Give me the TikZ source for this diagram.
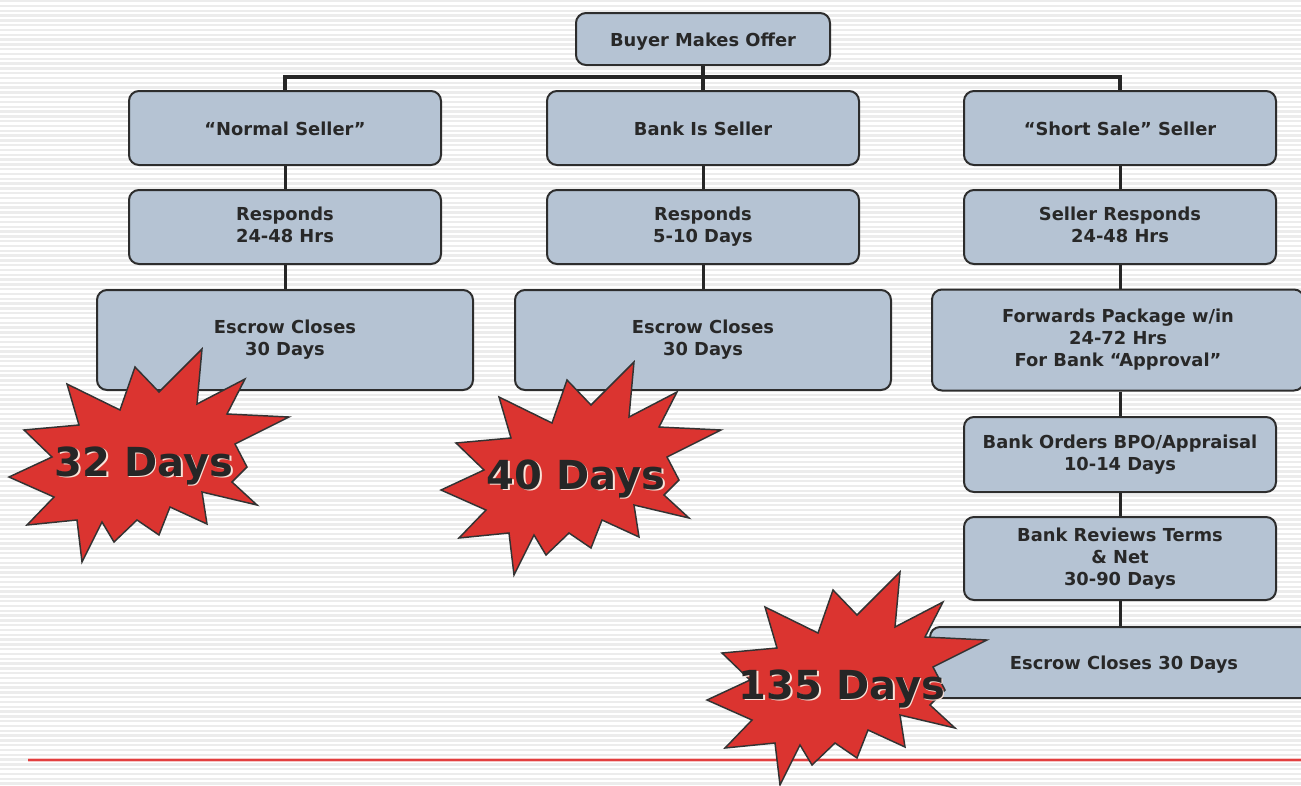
\documentclass[tikz,border=0pt]{standalone}
\usepackage{fontspec}
\setmainfont{DejaVu Sans}
\usepackage{tikz}

\definecolor{boxfill}{RGB}{181,195,211}
\definecolor{boxline}{RGB}{45,45,45}
\definecolor{boxtext}{RGB}{40,40,40}
\definecolor{burstred}{RGB}{219,52,48}
\definecolor{stripe}{RGB}{236,236,236}
\definecolor{redline}{RGB}{226,62,62}
\definecolor{glow}{RGB}{250,226,216}

\newcommand{\burstlabel}[1]{\makebox[0pt][l]{\hspace{1.2pt}\raisebox{-1.4pt}{\color{glow}#1}}#1}

\begin{document}
\begin{tikzpicture}[x=0.75pt,y=0.75pt,yscale=-1,xscale=1,
  box/.style={draw=boxline, line width=1.5pt, fill=boxfill, rounded corners=7.5pt, text=boxtext, font=\fontsize{13.4}{16.5}\selectfont\bfseries, align=center, inner sep=0pt, execute at begin node={\rule{0pt}{14.3pt}}, execute at end node={\rule[-3.3pt]{0pt}{0pt}}},
  link/.style={draw=black!85, line width=2.25pt},
  bus/.style={draw=black!85, line width=3pt},
  burst/.style={draw=black!80, line width=1.1pt, fill=burstred, line join=miter},
  daystxt/.style={font=\fontsize{30}{36}\selectfont\bfseries, text=black!85, inner sep=0pt, anchor=base},
  boom/.pic={\path[burst, yscale=-1] (200,7) -- (195,62) -- (243,37) -- (225,72) -- (287,75) -- (233,102) -- (245,125) -- (230,140) -- (255,163) -- (200,150) -- (205,182) -- (168,165) -- (157,193) -- (135,178) -- (112,200) -- (100,180) -- (80,220) -- (75,178) -- (25,183) -- (52,155) -- (7,135) -- (50,115) -- (22,88) -- (77,83) -- (65,42) -- (118,68) -- (133,25) -- (157,50) -- cycle;}
]
  \useasboundingbox (0,0) rectangle (1301,785);

  % striped background
  \fill[white] (0,0) rectangle (1301,785);
  \foreach \y in {0,4.8,...,785} {\fill[stripe] (0,\y) rectangle (1301,\y+2.4);}

  % bottom rule
  \draw[line width=3pt, redline!30] (28,760) -- (1301,760);
  \draw[line width=1.2pt, redline] (28,760) -- (1301,760);

  % top and the three sellers
  \node[box, minimum width=190.5pt, minimum height=39pt] (offer) at (703,39) {Buyer Makes Offer};
  \node[box, minimum width=234pt, minimum height=55.5pt] (normal) at (285,128) {“Normal Seller”};
  \node[box, minimum width=234pt, minimum height=55.5pt] (bankseller) at (703,128) {Bank Is Seller};
  \node[box, minimum width=234pt, minimum height=55.5pt] (short) at (1120,128) {“Short Sale” Seller};

  \node[box, minimum width=234pt, minimum height=55.5pt] (resp1) at (285,227) {Responds\\24-48 Hrs};
  \node[box, minimum width=234pt, minimum height=55.5pt] (resp2) at (703,227) {Responds\\5-10 Days};
  \node[box, minimum width=234pt, minimum height=55.5pt] (resp3) at (1120,227) {Seller Responds\\24-48 Hrs};

  \node[box, minimum width=282pt, minimum height=75pt] (esc1) at (285,340) {Escrow Closes\\30 Days};
  \node[box, minimum width=282pt, minimum height=75pt] (esc2) at (703,340) {Escrow Closes\\30 Days};
  \node[box, minimum width=279pt, minimum height=75.75pt] (forward) at (1118,340) {Forwards Package w/in\\24-72 Hrs\\For Bank “Approval”};

  \node[box, minimum width=234pt, minimum height=56.25pt] (bpo) at (1120,454.5) {Bank Orders BPO/Appraisal\\10-14 Days};
  \node[box, minimum width=234pt, minimum height=62.25pt] (review) at (1120,558.5) {Bank Reviews Terms\\\& Net\\30-90 Days};
  \node[box, minimum width=291pt, minimum height=53.25pt] (esc3) at (1124,662.5) {Escrow Closes 30 Days};

  % connectors
  \coordinate (hub) at (703,77);
  \draw[bus] (offer.south) -- (hub);
  \draw[bus] (normal.north) |- (hub) -| (short.north);
  \draw[bus] (hub) -- (bankseller.north);

  \draw[link] (normal.south) -- (resp1.north);
  \draw[link] (resp1.south) -- (esc1.north);
  \draw[link] (bankseller.south) -- (resp2.north);
  \draw[link] (resp2.south) -- (esc2.north);
  \draw[link] (short.south) -- (resp3.north);
  \draw[link] (resp3.south) -- (resp3.south |- forward.north);
  \draw[link] (bpo.north |- forward.south) -- (bpo.north);
  \draw[link] (bpo.south) -- (review.north);
  \draw[link] (review.south) -- (review.south |- esc3.north);

  % Label the totals
  \pic at (2,342) {boom};
  \node[daystxt] (days32) at (144,476) {\burstlabel{32 Days}};
  \pic at (434,355) {boom};
  \node[daystxt] (days40) at (576,489) {\burstlabel{40 Days}};
  \pic at (700,565) {boom};
  \node[daystxt] (days135) at (842,699) {\burstlabel{135 Days}};

\end{tikzpicture}
\end{document}
